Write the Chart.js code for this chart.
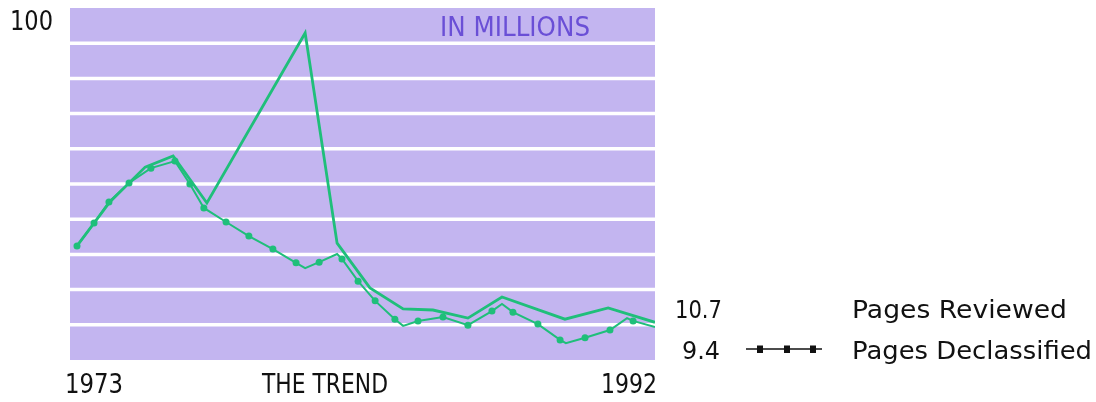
<!DOCTYPE html>
<html>
<head>
<meta charset="utf-8">
<title>Pages Reviewed and Declassified, 1973–1992</title>
<script src="https://cdn.jsdelivr.net/npm/chart.js@4/dist/chart.umd.min.js"></script>
<style>
  html, body { margin: 0; padding: 0; background: #ffffff; }
  canvas { display: block; }
</style>
</head>
<body>
<canvas id="trend" width="1096" height="402"></canvas>
<script>
// Pages per year, in millions
const reviewedYears = [1973.00, 1974.08, 1975.24, 1976.16, 1977.27, 1980.50, 1981.55, 1982.63,
  1983.72, 1984.70, 1985.85, 1986.97, 1989.04, 1990.46, 1992.00];
const reviewedValues = [32.4, 44.9, 54.8, 58.0, 44.6, 92.9, 33.2, 20.5,
  14.5, 14.2, 11.9, 17.9, 11.6, 14.8, 10.7];

const declassifiedYears = [1973.00, 1973.56, 1974.05, 1974.71, 1975.43, 1976.22, 1976.71, 1977.17,
  1977.90, 1978.65, 1979.44, 1980.20, 1980.50, 1980.96, 1981.55, 1981.71, 1982.24, 1982.80,
  1983.45, 1983.72, 1984.21, 1985.03, 1985.85, 1986.64, 1986.97, 1987.33, 1988.15, 1988.88,
  1989.07, 1989.70, 1990.52, 1991.08, 1991.28, 1992.00];
const declassifiedValues = [32.4, 38.9, 44.9, 50.3, 54.5, 56.5, 50.0, 43.2,
  39.2, 35.2, 31.5, 27.6, 26.1, 27.8, 30.1, 28.7, 22.4, 16.8,
  11.6, 9.7, 11.1, 12.2, 9.9, 13.9, 15.9, 13.6, 10.2, 5.7,
  4.8, 6.3, 8.5, 11.9, 11.1, 9.4];

// Readings of the declassified series that carry a dot
const declassifiedDotYears = [1973.00, 1973.56, 1974.05, 1974.71, 1975.43, 1976.22, 1976.71, 1977.17,
  1977.90, 1978.65, 1979.44, 1980.20, 1980.96, 1981.71, 1982.24, 1982.80, 1983.45, 1984.21,
  1985.03, 1985.85, 1986.64, 1987.33, 1988.15, 1988.88, 1989.70, 1990.52, 1991.28];

const seriesNames = ['Pages Reviewed', 'Pages Declassified'];
const xTickLabels = ['1973', 'THE TREND', '1992'];
const yTickLabel = '100';
const unitLabel = 'IN MILLIONS';
const gridValues = [10, 20, 30, 40, 50, 60, 70, 80, 90];

const GREEN = '#1fbf7a';
const FIELD = '#c3b5f0';
const FONT = '"DejaVu Sans", sans-serif';

const toPoints = (xs, ys) => xs.map((x, i) => ({ x: x, y: ys[i] }));
const dotPoints = declassifiedDotYears.map(yr => ({
  x: yr, y: declassifiedValues[declassifiedYears.indexOf(yr)]
}));

// Text drawn at a given cap height, then stretched to a given width
function fittedText(ctx, text, x, baseline, cap, width, align, color) {
  ctx.save();
  ctx.font = (cap / 0.73).toFixed(1) + 'px ' + FONT;
  ctx.fillStyle = color || '#111111';
  ctx.textBaseline = 'alphabetic';
  ctx.textAlign = 'left';
  const w = ctx.measureText(text).width;
  let left = x;
  if (align === 'right') left = x - width;
  if (align === 'center') left = x - width / 2;
  ctx.translate(left, baseline);
  ctx.scale(width / w, 1);
  ctx.fillText(text, 0, 0);
  ctx.restore();
}

const trendFrame = {
  id: 'trendFrame',
  beforeDatasetsDraw(chart) {
    const { ctx, chartArea: a, scales } = chart;
    ctx.save();
    ctx.fillStyle = FIELD;
    ctx.fillRect(a.left, a.top, a.right - a.left, a.bottom - a.top);
    ctx.strokeStyle = '#ffffff';
    ctx.lineWidth = 3.5;
    gridValues.forEach(v => {
      const y = scales.y.getPixelForValue(v);
      ctx.beginPath();
      ctx.moveTo(a.left, y);
      ctx.lineTo(a.right, y);
      ctx.stroke();
    });
    ctx.restore();
  },
  afterDraw(chart) {
    const { ctx, chartArea: a } = chart;
    // axis texts
    fittedText(ctx, yTickLabel, 10, 30, 19, 43, 'left');
    fittedText(ctx, unitLabel, 440, 36, 19, 150, 'left', '#6a4fd6');
    fittedText(ctx, xTickLabels[0], a.left - 5, 393, 19, 58, 'left');
    fittedText(ctx, xTickLabels[1], 325, 393, 19, 126, 'center');
    fittedText(ctx, xTickLabels[2], a.right + 2, 393, 19, 56, 'right');

    // key with closing values
    const lastReviewed = reviewedValues[reviewedValues.length - 1].toFixed(1);
    const lastDeclassified = declassifiedValues[declassifiedValues.length - 1].toFixed(1);
    fittedText(ctx, lastReviewed, 722, 318, 18, 47, 'right');
    fittedText(ctx, lastDeclassified, 720, 359, 18, 38, 'right');
    fittedText(ctx, seriesNames[0], 852, 318, 18, 215, 'left');
    fittedText(ctx, seriesNames[1], 852, 359, 18, 240, 'left');

    ctx.save();
    ctx.strokeStyle = '#111111';
    ctx.lineWidth = 1.5;
    ctx.beginPath();
    ctx.moveTo(746, 349);
    ctx.lineTo(822, 349);
    ctx.stroke();
    ctx.fillStyle = '#111111';
    [760, 787, 813].forEach(x => ctx.fillRect(x - 3, 345.5, 6, 7.5));
    ctx.restore();
  }
};

new Chart(document.getElementById('trend'), {
  type: 'line',
  data: {
    datasets: [
      {
        label: seriesNames[0],
        data: toPoints(reviewedYears, reviewedValues),
        borderColor: GREEN,
        borderWidth: 2.8,
        pointRadius: 0,
        tension: 0
      },
      {
        label: seriesNames[1],
        data: toPoints(declassifiedYears, declassifiedValues),
        borderColor: GREEN,
        borderWidth: 2.0,
        pointRadius: 0,
        tension: 0
      },
      {
        label: seriesNames[1] + ' dots',
        data: dotPoints,
        showLine: false,
        pointRadius: 3.5,
        pointBackgroundColor: GREEN,
        pointBorderWidth: 0
      }
    ]
  },
  options: {
    responsive: false,
    animation: false,
    events: [],
    layout: { padding: { left: 70, right: 441, top: 8, bottom: 42 } },
    scales: {
      x: { type: 'linear', min: 1972.77, max: 1992, display: false },
      y: { min: 0, max: 100, display: false }
    },
    plugins: { legend: { display: false }, tooltip: { enabled: false } }
  },
  plugins: [trendFrame]
});
</script>
</body>
</html>
